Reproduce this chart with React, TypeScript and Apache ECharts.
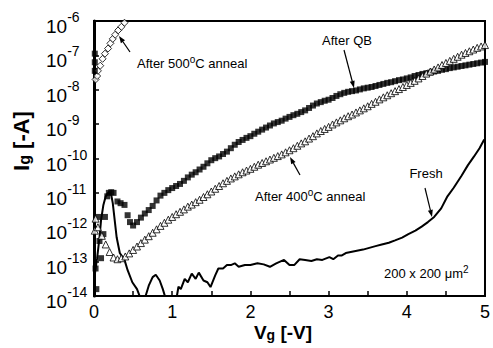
import React, { useEffect, useRef } from 'react';
import * as echarts from 'echarts';

const FONT = '"Liberation Sans", Arial, Helvetica, sans-serif';

// x-axis tick labels (V) and y-axis decades (log10 A)
const xTickLabels = ['0', '1', '2', '3', '4', '5'];
const yDecades = [-14, -13, -12, -11, -10, -9, -8, -7, -6];

// All currents stored as log10(Ig [-A]): [Vg, log10 Ig]
const afterQB: [number, number][] = [
  [0.01, -6.95], [0.01, -7.2], [0.01, -7.45], [0.02, -13.2], [0.03, -13.8],
  [0.06, -11.7], [0.07, -12.4], [0.09, -12.9], [0.12, -12.2], [0.14, -11.7],
  [0.17, -11.1], [0.19, -11.0], [0.22, -10.98], [0.25, -11.0], [0.3, -11.25],
  [0.34, -11.3], [0.39, -11.35], [0.43, -11.65], [0.46, -11.85],
  [0.5, -11.95], [0.55, -11.85], [0.6, -11.72], [0.65, -11.6], [0.7, -11.5],
  [0.75, -11.38], [0.8, -11.22], [0.85, -11.08], [0.9, -11.0], [0.95, -10.92],
  [1.0, -10.86], [1.05, -10.8], [1.1, -10.74], [1.15, -10.65], [1.2, -10.55],
  [1.25, -10.47], [1.3, -10.4], [1.35, -10.32], [1.4, -10.24], [1.45, -10.14],
  [1.5, -10.05], [1.55, -9.99], [1.6, -9.94], [1.65, -9.87], [1.7, -9.8],
  [1.75, -9.7], [1.8, -9.6], [1.85, -9.52], [1.9, -9.46], [1.95, -9.4],
  [2.0, -9.35], [2.05, -9.28], [2.1, -9.22], [2.15, -9.16], [2.2, -9.1],
  [2.25, -9.04], [2.3, -8.98], [2.35, -8.94], [2.4, -8.9], [2.45, -8.84],
  [2.5, -8.79], [2.55, -8.74], [2.6, -8.7], [2.65, -8.65], [2.7, -8.6],
  [2.75, -8.53], [2.8, -8.46], [2.85, -8.4], [2.9, -8.36], [2.95, -8.32],
  [3.0, -8.29], [3.05, -8.24], [3.1, -8.18], [3.15, -8.13], [3.2, -8.09],
  [3.25, -8.06], [3.3, -8.04], [3.35, -8.02], [3.4, -7.99], [3.45, -7.96],
  [3.5, -7.94], [3.55, -7.92], [3.6, -7.89], [3.65, -7.86], [3.7, -7.83],
  [3.75, -7.8], [3.8, -7.78], [3.85, -7.75], [3.9, -7.72], [3.95, -7.7],
  [4.0, -7.67], [4.05, -7.64], [4.1, -7.6], [4.15, -7.57], [4.2, -7.54],
  [4.25, -7.52], [4.3, -7.5], [4.35, -7.47], [4.4, -7.45], [4.45, -7.42],
  [4.5, -7.4], [4.55, -7.37], [4.6, -7.35], [4.65, -7.33], [4.7, -7.31],
  [4.75, -7.29], [4.8, -7.27], [4.85, -7.25], [4.9, -7.23], [4.95, -7.21],
  [5.0, -7.19],
];

const after400: [number, number][] = [
  [0.01, -12.1], [0.02, -11.75], [0.05, -12.0], [0.1, -12.25], [0.15, -12.5],
  [0.2, -12.72], [0.25, -12.88], [0.3, -12.93], [0.35, -12.9], [0.4, -12.85],
  [0.45, -12.76], [0.5, -12.66], [0.55, -12.56], [0.6, -12.46], [0.65, -12.36],
  [0.7, -12.26], [0.75, -12.16], [0.8, -12.06], [0.85, -11.96], [0.9, -11.87],
  [0.95, -11.78], [1.0, -11.7], [1.05, -11.62], [1.1, -11.55], [1.15, -11.48],
  [1.2, -11.4], [1.25, -11.34], [1.3, -11.27], [1.35, -11.2], [1.4, -11.12],
  [1.45, -11.04], [1.5, -10.96], [1.55, -10.88], [1.6, -10.8], [1.65, -10.72],
  [1.7, -10.65], [1.75, -10.58], [1.8, -10.52], [1.85, -10.46], [1.9, -10.4],
  [1.95, -10.35], [2.0, -10.3], [2.05, -10.24], [2.1, -10.18], [2.15, -10.13],
  [2.2, -10.08], [2.25, -10.03], [2.3, -9.98], [2.35, -9.93], [2.4, -9.88],
  [2.45, -9.82], [2.5, -9.76], [2.55, -9.7], [2.6, -9.63], [2.65, -9.56],
  [2.7, -9.5], [2.75, -9.42], [2.8, -9.35], [2.85, -9.27], [2.9, -9.2],
  [2.95, -9.14], [3.0, -9.08], [3.05, -9.01], [3.1, -8.95], [3.15, -8.89],
  [3.2, -8.83], [3.25, -8.77], [3.3, -8.72], [3.35, -8.66], [3.4, -8.6],
  [3.45, -8.54], [3.5, -8.48], [3.55, -8.41], [3.6, -8.35], [3.65, -8.28],
  [3.7, -8.22], [3.75, -8.16], [3.8, -8.1], [3.85, -8.04], [3.9, -7.98],
  [3.95, -7.92], [4.0, -7.86], [4.05, -7.8], [4.1, -7.74], [4.15, -7.67],
  [4.2, -7.6], [4.25, -7.53], [4.3, -7.47], [4.35, -7.41], [4.4, -7.35],
  [4.45, -7.28], [4.5, -7.22], [4.55, -7.16], [4.6, -7.1], [4.65, -7.04],
  [4.7, -6.98], [4.75, -6.93], [4.8, -6.88], [4.85, -6.83], [4.9, -6.78],
  [4.95, -6.74], [5.0, -6.7],
];

const after500: [number, number][] = [
  [0.02, -7.7], [0.04, -7.6], [0.05, -7.45], [0.08, -7.3], [0.11, -7.1],
  [0.14, -6.95], [0.18, -6.8], [0.21, -6.65], [0.24, -6.52], [0.27, -6.4],
  [0.31, -6.27], [0.35, -6.17], [0.39, -6.05],
];

const fresh: [number, number][] = [
  [0.0, -13.6], [0.02, -13.2], [0.04, -12.9], [0.07, -12.3], [0.09, -11.8],
  [0.12, -11.35], [0.15, -11.1], [0.19, -10.97], [0.22, -11.05], [0.24, -11.3],
  [0.27, -11.9], [0.29, -12.3], [0.33, -12.75], [0.39, -12.95], [0.43, -13.25],
  [0.49, -13.6], [0.55, -13.8], [0.6, -14.1], [0.62, -14.4], [0.64, -14.3],
  [0.66, -14.0], [0.7, -13.7], [0.75, -13.45], [0.79, -13.38], [0.84, -13.55],
  [0.88, -13.8], [0.92, -14.1], [0.96, -14.4], [1.02, -14.4], [1.06, -14.0],
  [1.08, -13.73], [1.11, -13.8], [1.16, -13.5], [1.2, -13.6], [1.25, -13.35],
  [1.3, -13.5], [1.34, -13.32], [1.4, -13.55], [1.45, -13.6], [1.49, -13.74],
  [1.55, -13.4], [1.59, -13.2], [1.65, -13.2], [1.7, -13.1], [1.75, -13.1],
  [1.8, -13.05], [1.85, -13.15], [1.93, -13.1], [2.0, -13.1], [2.09, -13.05],
  [2.17, -13.08], [2.25, -13.15], [2.33, -13.05], [2.43, -12.95], [2.5, -13.1],
  [2.56, -13.1], [2.63, -12.93], [2.7, -12.95], [2.78, -12.98], [2.85, -12.93],
  [2.92, -12.95], [3.01, -12.87], [3.06, -12.93], [3.12, -12.82], [3.17, -12.82],
  [3.22, -12.75], [3.33, -12.7], [3.44, -12.65], [3.52, -12.6], [3.6, -12.55],
  [3.68, -12.5], [3.77, -12.45], [3.85, -12.38], [3.94, -12.3], [4.02, -12.2],
  [4.11, -12.1], [4.19, -11.98], [4.27, -11.85], [4.35, -11.7], [4.44, -11.45],
  [4.52, -11.1], [4.6, -10.85], [4.7, -10.5], [4.78, -10.2], [4.86, -9.94],
  [4.93, -9.7], [4.99, -9.45],
];

function arrow(x1: number, y1: number, x2: number, y2: number) {
  const ang = Math.atan2(y2 - y1, x2 - x1);
  const len = 7;
  const w = 2.5;
  const bx = x2 - len * Math.cos(ang);
  const by = y2 - len * Math.sin(ang);
  const px = -Math.sin(ang) * w;
  const py = Math.cos(ang) * w;
  return [
    {
      type: 'line',
      shape: { x1, y1, x2: bx, y2: by },
      style: { stroke: '#000', lineWidth: 1.2 },
      silent: true,
    },
    {
      type: 'polygon',
      shape: { points: [[x2, y2], [bx + px, by + py], [bx - px, by - py]] },
      style: { fill: '#000' },
      silent: true,
    },
  ];
}

function label(text: string, x: number, y: number, align: string = 'left') {
  return {
    type: 'text',
    x,
    y,
    style: {
      text,
      fill: '#000',
      font: `13px ${FONT}`,
      align,
      verticalAlign: 'middle',
      rich: {
        n: { fontSize: 13, fontFamily: FONT, lineHeight: 16, verticalAlign: 'bottom' },
        s: { fontSize: 10, fontFamily: FONT, lineHeight: 10, verticalAlign: 'top' },
      },
    },
    silent: true,
  };
}

export default function App() {
  const ref = useRef<HTMLDivElement>(null);
  useEffect(() => {
    if (!ref.current) return;
    const chart = echarts.init(ref.current, null, { renderer: 'svg' });
    const toVal = (arr: [number, number][]) => arr.map(([v, e]) => [v, Math.pow(10, e)]);

    chart.setOption({
      animation: false,
      backgroundColor: '#fff',
      grid: {
        left: 94,
        right: 2,
        top: 21,
        bottom: 52,
        show: true,
        borderColor: '#000',
        borderWidth: 2,
        backgroundColor: 'transparent',
      },
      xAxis: {
        type: 'value',
        min: 0,
        max: 5,
        interval: 1,
        axisLine: { show: true, lineStyle: { color: '#000', width: 2 } },
        axisTick: { show: true, inside: true, length: 5, lineStyle: { color: '#000', width: 1.5 } },
        minorTick: { show: true, splitNumber: 2, length: 5, lineStyle: { color: '#000', width: 1.5 } },
        splitLine: { show: false },
        minorSplitLine: { show: false },
        axisLabel: {
          color: '#000',
          fontSize: 18,
          fontFamily: FONT,
          margin: 7,
          formatter: (v: number) => xTickLabels[Math.round(v)] ?? '',
        },
      },
      yAxis: {
        type: 'log',
        logBase: 10,
        min: 1e-14,
        max: 1e-6,
        splitNumber: 8,
        axisLine: { show: true, lineStyle: { color: '#000', width: 3 } },
        axisTick: { show: true, inside: true, length: 5, lineStyle: { color: '#000', width: 1.5 } },
        splitLine: { show: false },
        axisLabel: {
          color: '#000',
          margin: 48,
          align: 'left',
          formatter: (v: number) => {
            const e = Math.round(Math.log10(v));
            if (!yDecades.includes(e)) return '';
            return `{b|10}{s|${e}}`;
          },
          rich: {
            b: { fontSize: 19, fontFamily: FONT, color: '#000', lineHeight: 19, padding: [11, 0, 0, 0] },
            s: { fontSize: 14, fontFamily: FONT, color: '#000', lineHeight: 22, verticalAlign: 'top' },
          },
        },
      },
      series: [
        {
          name: 'Fresh',
          type: 'line',
          data: toVal(fresh),
          showSymbol: false,
          symbol: 'none',
          clip: true,
          lineStyle: { color: '#000', width: 2 },
          z: 2,
        },
        {
          name: 'After 500°C anneal',
          type: 'scatter',
          data: toVal(after500),
          symbol: 'diamond',
          symbolSize: 7,
          clip: true,
          itemStyle: { color: '#fff', borderColor: '#000', borderWidth: 1 },
          z: 3,
        },
        {
          name: 'After QB',
          type: 'scatter',
          data: toVal(afterQB),
          symbol: 'rect',
          symbolSize: 6,
          clip: true,
          itemStyle: { color: '#000' },
          z: 3,
        },
        {
          name: 'After 400°C anneal',
          type: 'scatter',
          data: toVal(after400),
          symbol: 'triangle',
          symbolSize: 7,
          clip: true,
          itemStyle: { color: '#fff', borderColor: '#000', borderWidth: 1 },
          z: 4,
        },
      ],
      graphic: [
        // axis titles
        {
          type: 'text',
          x: 21,
          y: 141,
          rotation: Math.PI / 2,
          style: {
            text: '{b|I}{u|g}{b| [-A]}',
            align: 'center',
            verticalAlign: 'middle',
            fill: '#000',
            rich: {
              b: { fontSize: 22, fontWeight: 'bold', fontFamily: FONT, lineHeight: 22, verticalAlign: 'top' },
              u: { fontSize: 16, fontWeight: 'bold', fontFamily: FONT, lineHeight: 16, verticalAlign: 'bottom', padding: [11, 0, 0, 0] },
            },
          },
          silent: true,
        },
        {
          type: 'text',
          x: 283,
          y: 332,
          style: {
            text: '{b|V}{u|g}{b| [-V]}',
            align: 'center',
            verticalAlign: 'middle',
            fill: '#000',
            rich: {
              b: { fontSize: 19, fontWeight: 'bold', fontFamily: FONT, lineHeight: 19, verticalAlign: 'top' },
              u: { fontSize: 14, fontWeight: 'bold', fontFamily: FONT, lineHeight: 14, verticalAlign: 'bottom', padding: [9, 0, 0, 0] },
            },
          },
          silent: true,
        },
        // annotations
        label('{n|After 500}{s|o}{n|C anneal}', 137, 62),
        ...arrow(130, 52, 119, 36),
        label('{n|After QB}', 347, 39, 'center'),
        ...arrow(344, 50, 354, 88),
        label('{n|After 400}{s|o}{n|C anneal}', 255, 195),
        ...arrow(300, 175, 290, 157),
        label('{n|Fresh}', 426, 172, 'center'),
        ...arrow(425, 188, 432, 217),
        label('{n|200 x 200 μm}{s|2}', 384, 272),
      ],
    });
    return () => chart.dispose();
  }, []);
  return (
    <div
      ref={ref}
      style={{ position: 'fixed', left: 0, top: 0, width: 493, height: 348, background: '#fff' }}
    />
  );
}
